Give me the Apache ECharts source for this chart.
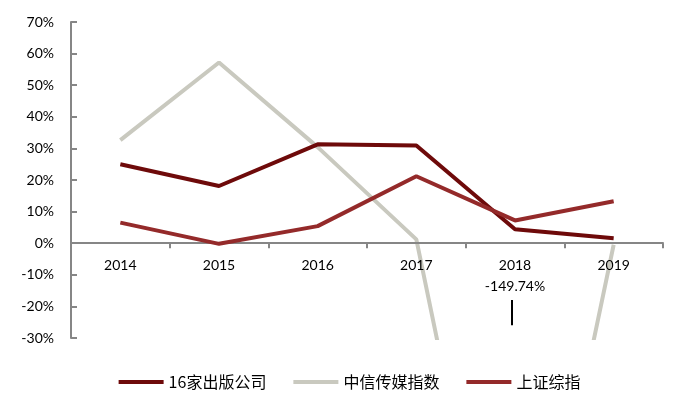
<!DOCTYPE html>
<html><head><meta charset="utf-8">
<script src="https://cdn.jsdelivr.net/npm/echarts@6/dist/echarts.min.js"></script>
<style>html,body{margin:0;padding:0;background:#fff}#c{width:699px;height:403px}</style>
</head><body><div id="c"></div>
<script>
const categories = ['2014','2015','2016','2017','2018','2019'];
const publishers = [25.0, 18.1, 31.3, 30.9, 4.4, 1.6];
const citicMedia = [32.6, 57.2, 30.4, 1.2, -149.74, -0.5];
const shanghaiIdx = [6.5, -0.2, 5.4, 21.2, 7.2, 13.3];
const seriesNames = ['16家出版公司', '中信传媒指数', '上证综指'];
const noteCategory = '2018';
const noteText = '-149.74%';
const yMin = -30, yMax = 70, yStep = 10;

const font = 'Lato, "Noto Sans CJK SC", sans-serif';
const gridTop = 22, gridBottom = 65, H = 403;
const plotH = H - gridTop - gridBottom;
const zeroOffset = -plotH * (0 - yMin) / (yMax - yMin);
const chart = echarts.init(document.getElementById('c'), null, {renderer: 'canvas'});
const lineSeries = (name, data, color, z) => ({
  name, type: 'line', data, symbol: 'none', clip: true, z,
  lineStyle: {color, width: 4}, itemStyle: {color}
});
chart.setOption({
  animation: false,
  grid: {left: 71, right: 36, top: gridTop, bottom: gridBottom},
  legend: {
    top: 369, left: 'center', itemWidth: 45, itemHeight: 4, itemGap: 27,
    icon: 'rect',
    textStyle: {fontFamily: '"Noto Sans CJK SC", sans-serif', fontSize: 16, color: '#000'},
    data: seriesNames
  },
  xAxis: {
    type: 'category', data: categories, boundaryGap: true, z: 1.5,
    position: 'bottom', offset: zeroOffset,
    axisLine: {onZero: false, lineStyle: {color: '#868686', width: 2}},
    axisTick: {show: true, length: 5, inside: false, lineStyle: {color: '#868686', width: 2}},
    axisLabel: {
      margin: 12, fontFamily: font, fontSize: 14, color: '#000', lineHeight: 21,
      formatter: v => v === noteCategory ? v + '\n' + noteText : v
    }
  },
  yAxis: {
    type: 'value', min: yMin, max: yMax, interval: yStep,
    axisLine: {show: true, lineStyle: {color: '#868686', width: 2}},
    axisTick: {show: true, inside: true, length: 6, lineStyle: {color: '#868686', width: 2}},
    splitLine: {show: false},
    axisLabel: {margin: 17, fontFamily: font, fontSize: 14, color: '#000', formatter: v => v + '%'}
  },
  series: [
    lineSeries(seriesNames[0], publishers, '#6E0A0A', 2),
    lineSeries(seriesNames[1], citicMedia, '#C9C9BF', 1),
    lineSeries(seriesNames[2], shanghaiIdx, '#942A2A', 2)
  ]
});
const px = chart.convertToPixel({xAxisIndex: 0}, noteCategory);
const y0 = chart.convertToPixel({yAxisIndex: 0}, -18);
const y1 = chart.convertToPixel({yAxisIndex: 0}, -26);
chart.setOption({
  graphic: [{
    type: 'line', shape: {x1: px - 3, y1: y0, x2: px - 3, y2: y1},
    style: {stroke: '#000', lineWidth: 2}
  }]
});
</script></body></html>
